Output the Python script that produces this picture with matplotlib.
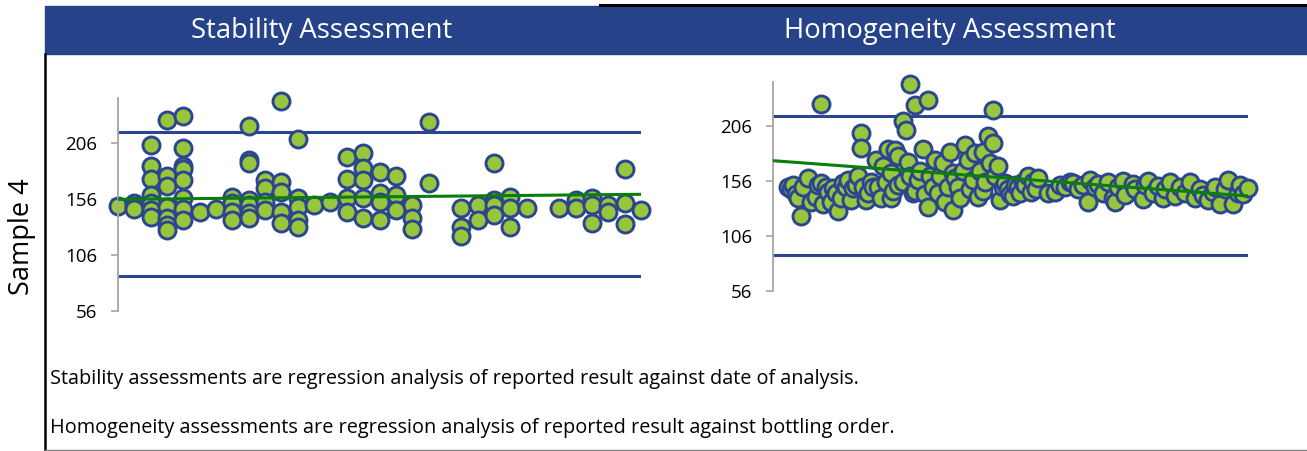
import matplotlib
matplotlib.use("Agg")
import matplotlib.pyplot as plt
from matplotlib.patches import Rectangle
from matplotlib.lines import Line2D

# ---------------- data ----------------
# Stability: analysis slot (date order) and reported result
stab_x = [0,
          1, 1, 1,
          2, 2, 2, 2, 2, 2, 2,
          3, 3, 3, 3, 3, 3, 3,
          4, 4, 4, 4, 4, 4, 4, 4,
          5, 6,
          7, 7, 7, 7,
          8, 8, 8, 8, 8, 8, 8,
          9, 9, 9, 9,
          10, 10, 10, 10, 10,
          11, 11, 11, 11, 11,
          12, 13,
          14, 14, 14, 14,
          15, 15, 15, 15, 15,
          16, 16, 16, 16,
          17, 17, 17,
          18, 18, 18,
          19, 19,
          21, 21, 21,
          22, 22,
          23, 23, 23, 23,
          24, 24, 24,
          25, 27,
          28, 28,
          29, 29, 29,
          30, 30,
          31, 31, 31,
          32]
stab_y = [150,
          152, 150, 147,
          204, 185.5, 173.6, 159.6, 152, 146, 140,
          226.5, 176, 167.6, 149, 138.7, 132.8, 128.3,
          230, 201, 185.5, 182.5, 173, 156.6, 146.8, 137.2,
          144.7, 147,
          158, 152, 144.7, 137.2,
          220.6, 190.8, 187.8, 155, 150.6, 143.2, 138.7,
          173, 165.5, 153.6, 146.2,
          243.5, 171.5, 162.5, 144.7, 134.3,
          209.3, 156.6, 149, 137.2, 131.3,
          150.6, 153.6,
          193.8, 173.6, 156.6, 144.7,
          196.8, 183.4, 173, 156.6, 138.7,
          180.4, 161, 153.6, 137.2,
          176, 159.6, 146.2,
          150.6, 138.7, 128.9,
          224.5, 170.6,
          147.7, 131.3, 123,
          150.6, 137.2,
          188.4, 155, 150.6, 141.7,
          158, 147.7, 131.3,
          147.7, 148.3,
          155, 147.7,
          156.6, 150.6, 134.3,
          150.6, 144.7,
          182.5, 152, 133.7,
          146.2]
stab_trend = [155.6, 160.1]        # trend value at first and last slot
stab_limits = [216, 87]             # upper / lower limits

# Homogeneity: bottling order and reported result
homo_x = [6, 7, 8, 9, 10, 11, 12, 14, 15, 17, 18, 19, 19, 20, 21, 22, 23, 24, 25,
          26, 27, 28, 29, 30, 31, 32, 33, 34, 35, 35, 36, 37, 38, 39, 40, 41, 42,
          43, 44, 45, 46, 47, 47, 48, 49, 50, 50, 52, 52, 53, 54, 55, 55, 56, 57,
          57, 58, 59, 60, 61, 62, 62, 63, 64, 65, 66, 67, 68, 69, 70, 71, 72, 72,
          73, 74, 75, 76, 77, 78, 79, 80, 81, 82, 83, 84, 84, 85, 86, 87, 88, 88,
          89, 90, 91, 92, 93, 94, 95, 96, 97, 98, 99, 100, 101, 102, 103, 104, 105,
          106, 110,
          113, 115, 117, 119, 120, 122, 124, 126, 127, 129, 130, 132, 134, 136, 137,
          138, 140, 141, 144, 145, 148, 149, 150, 152, 154, 156, 157, 159, 161, 163,
          165, 167, 169, 171, 172, 174, 176, 177, 179, 181, 182, 184, 186, 187, 188,
          190]
homo_y = [150, 148, 152, 144, 140, 124, 150, 158, 137, 141, 152, 226, 154, 135, 150,
          146, 137, 149, 145, 128, 140, 154, 150, 157, 138, 149, 152, 160, 199, 186,
          150, 138, 145, 155, 150, 175, 150, 140, 169, 155, 185, 163, 140, 147, 184,
          178, 152, 210, 155, 202, 173, 244, 160, 145, 225, 147, 157, 165, 185, 144,
          229, 132, 160, 150, 175, 145, 160, 172, 137, 150, 182, 163, 129, 158, 150,
          140, 165, 188, 175, 148, 157, 181, 141, 165, 182, 147, 155, 197, 172, 190,
          220, 160, 169, 138, 150, 154, 148, 144, 142, 152, 150, 145, 155, 152, 160,
          146, 155, 148, 158, 145,
          146, 152, 150, 155, 154, 148, 152, 137, 157, 150, 153, 145, 155, 140, 137,
          150, 156, 143, 153, 148, 139, 152, 156, 145, 151, 140, 148, 155, 142, 150,
          145, 155, 140, 148, 143, 138, 146, 150, 135, 148, 157, 135, 145, 152, 144,
          149]
homo_trend = [174.2, 142.1]
homo_limits = [215, 88]

y_ticks = [56, 106, 156, 206]
titles = ["Stability Assessment", "Homogeneity Assessment"]
row_label = "Sample 4"
notes = ["Stability assessments are regression analysis of reported result against date of analysis.",
         "Homogeneity assessments are regression analysis of reported result against bottling order."]

# ---------------- style ----------------
W, H, DPI = 1307, 451, 100
HEADER = "#264389"
FACE = "#97C63C"
EDGE = "#2B4590"
LIMIT = "#2B4590"
TREND = "#0A7D0A"
FONT = ["Open Sans", "DejaVu Sans"]

fig = plt.figure(figsize=(W / DPI, H / DPI), dpi=DPI)


def fx(px):
    return px / W


def fy(py):
    return 1 - py / H


# frame / headers
fig.patches.append(Rectangle((fx(45), fy(54)), fx(1307 - 45), 48 / H,
                             transform=fig.transFigure, color=HEADER, zorder=0))
fig.lines.append(Line2D([fx(600), fx(1307)], [fy(5), fy(5)], transform=fig.transFigure,
                        color="black", lw=2.2))
fig.lines.append(Line2D([fx(45), fx(45)], [fy(54), fy(451)], transform=fig.transFigure,
                        color="black", lw=1.8))
fig.lines.append(Line2D([fx(45), fx(1307)], [fy(450), fy(450)], transform=fig.transFigure,
                        color="#808080", lw=1.0))
fig.text(fx(322), fy(31), titles[0], color="white", fontsize=19.8, ha="center",
         va="center", family=FONT)
fig.text(fx(950), fy(31), titles[1], color="white", fontsize=19.8, ha="center",
         va="center", family=FONT)
fig.text(fx(22), fy(237), row_label, rotation=90, fontsize=19.5, ha="center", va="center",
         family=FONT)
fig.text(fx(50), fy(379), notes[0], fontsize=14.3, ha="left", va="center", family=FONT)
fig.text(fx(50), fy(428), notes[1], fontsize=14.3, ha="left", va="center", family=FONT)


def panel(rect_px, x, y, xmax, trend, limits):
    x0, x1, y0, y1 = rect_px
    ax = fig.add_axes([fx(x0), fy(y1), fx(x1 - x0), (y1 - y0) / H])
    ax.set_xlim(0, xmax)
    ax.set_ylim(56, 246)
    for lim in limits:
        ax.plot([0, xmax], [lim, lim], color=LIMIT, lw=2.2, zorder=1)
    ax.scatter(x, y, s=150, facecolor=FACE, edgecolor=EDGE, linewidth=2.1,
               zorder=2, clip_on=False)
    ax.plot([0, xmax], trend, color=TREND, lw=2.2, zorder=3)
    for s in ["top", "right", "bottom"]:
        ax.spines[s].set_visible(False)
    ax.spines["left"].set_color("#A6A6A6")
    ax.spines["left"].set_linewidth(1.3)
    ax.set_xticks([])
    ax.set_yticks(y_ticks)
    ax.tick_params(axis="y", length=5, width=1.2, color="#A6A6A6", labelsize=13.5, pad=10)
    for lab in ax.get_yticklabels():
        lab.set_family(FONT)
    ax.patch.set_alpha(0)
    return ax


panel((118, 641, 98, 311), stab_x, stab_y, 32, stab_trend, stab_limits)
panel((773, 1248, 81.7, 290.7), homo_x, homo_y, 190, homo_trend, homo_limits)

fig.savefig("out.png", dpi=DPI)
